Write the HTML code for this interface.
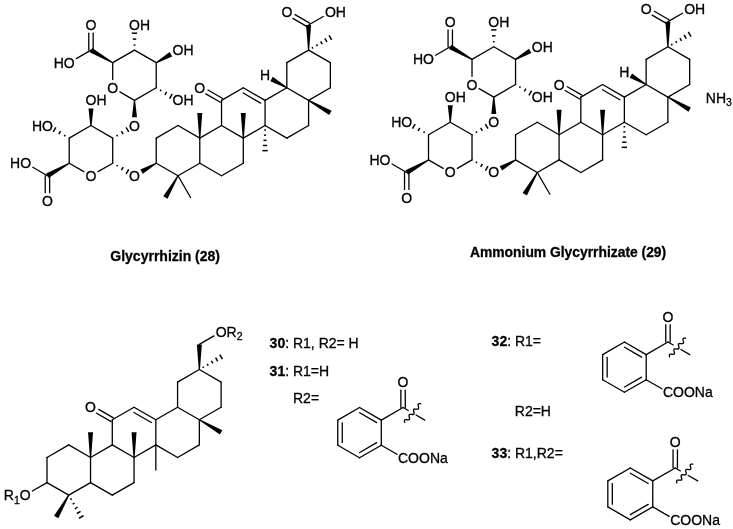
<!DOCTYPE html>
<html><head><meta charset="utf-8"><title>Glycyrrhizin derivatives</title><style>html,body{margin:0;padding:0;background:#fff}svg{display:block;will-change:transform}</style></head><body>
<svg width="733" height="529" viewBox="0 0 733 529" font-family="'Liberation Sans', Arial, Helvetica, sans-serif" fill="#000" stroke="none"><g stroke="#000" stroke-width="1.3" stroke-linecap="round" fill="#000"><line x1="156.25" y1="163.2" x2="156.25" y2="138.07"/>
<line x1="156.25" y1="138.07" x2="178.01" y2="125.5"/>
<line x1="178.01" y1="125.5" x2="199.78" y2="138.07"/>
<line x1="199.78" y1="138.07" x2="199.78" y2="163.2"/>
<line x1="199.78" y1="163.2" x2="178.01" y2="175.76"/>
<line x1="178.01" y1="175.76" x2="156.25" y2="163.2"/>
<line x1="199.78" y1="163.2" x2="221.54" y2="175.76"/>
<line x1="221.54" y1="175.76" x2="243.3" y2="163.2"/>
<line x1="243.3" y1="163.2" x2="243.3" y2="138.07"/>
<line x1="243.3" y1="138.07" x2="221.54" y2="125.5"/>
<line x1="221.54" y1="125.5" x2="199.78" y2="138.07"/>
<line x1="221.54" y1="125.5" x2="221.54" y2="100.38"/>
<line x1="221.54" y1="100.38" x2="243.3" y2="87.81"/>
<line x1="265.07" y1="100.38" x2="265.07" y2="125.5"/>
<line x1="265.07" y1="125.5" x2="243.3" y2="138.07"/>
<line x1="265.07" y1="125.5" x2="286.83" y2="138.07"/>
<line x1="286.83" y1="138.07" x2="308.59" y2="125.5"/>
<line x1="308.59" y1="125.5" x2="308.59" y2="100.38"/>
<line x1="308.59" y1="100.38" x2="286.83" y2="87.81"/>
<line x1="286.83" y1="87.81" x2="265.07" y2="100.38"/>
<line x1="286.83" y1="87.81" x2="286.83" y2="62.68"/>
<line x1="286.83" y1="62.68" x2="308.59" y2="50.12"/>
<line x1="308.59" y1="50.12" x2="330.36" y2="62.68"/>
<line x1="330.36" y1="62.68" x2="330.36" y2="87.81"/>
<line x1="330.36" y1="87.81" x2="308.59" y2="100.38"/>
<line x1="243.3" y1="87.81" x2="265.07" y2="100.38"/>
<line x1="243.17" y1="93.04" x2="260.6" y2="103.11"/>
<line x1="222.64" y1="98.47" x2="207.98" y2="90"/>
<line x1="220.44" y1="102.28" x2="205.78" y2="93.82"/>
<polygon stroke="none" points="200.38,138.07 202.28,112.94 197.28,112.94 199.18,138.07"/>
<polygon stroke="none" points="243.9,138.07 245.8,112.94 240.8,112.94 242.7,138.07"/>
<line x1="264.22" y1="130.03" x2="265.92" y2="130.03" stroke-width="1.5" stroke-linecap="butt"/>
<line x1="264.05" y1="135.18" x2="266.09" y2="135.18" stroke-width="1.5" stroke-linecap="butt"/>
<line x1="263.5" y1="140.33" x2="266.63" y2="140.33" stroke-width="1.5" stroke-linecap="butt"/>
<line x1="262.96" y1="145.48" x2="267.17" y2="145.48" stroke-width="1.5" stroke-linecap="butt"/>
<line x1="262.42" y1="150.63" x2="267.72" y2="150.63" stroke-width="1.5" stroke-linecap="butt"/>
<polygon stroke="none" points="308.29,100.89 329.11,115.11 331.61,110.77 308.89,99.86"/>
<polygon stroke="none" points="287.13,87.29 272.81,76.83 270.31,81.16 286.53,88.33"/>
<polygon stroke="none" points="309.19,50.12 311.09,24.99 306.09,24.99 307.99,50.12"/>
<line x1="312.93" y1="48.59" x2="312.08" y2="47.12" stroke-width="1.5" stroke-linecap="butt"/>
<line x1="317.48" y1="46.16" x2="316.46" y2="44.39" stroke-width="1.5" stroke-linecap="butt"/>
<line x1="322.21" y1="44.06" x2="320.65" y2="41.35" stroke-width="1.5" stroke-linecap="butt"/>
<line x1="326.95" y1="41.95" x2="324.84" y2="38.3" stroke-width="1.5" stroke-linecap="butt"/>
<line x1="331.68" y1="39.84" x2="329.03" y2="35.26" stroke-width="1.5" stroke-linecap="butt"/>
<line x1="309.69" y1="23.08" x2="295.03" y2="14.61"/>
<line x1="307.49" y1="26.89" x2="292.83" y2="18.43"/>
<line x1="308.59" y1="24.99" x2="323.25" y2="16.52"/>
<polygon stroke="none" points="177.49,175.46 163.28,196.28 167.61,198.78 178.53,176.06"/>
<line x1="178.01" y1="175.76" x2="190.58" y2="197.53"/>
<polygon stroke="none" points="155.95,162.68 140.34,169.5 142.84,173.83 156.55,163.72"/>
<line x1="116.7" y1="166.48" x2="117.55" y2="165" stroke-width="1.5" stroke-linecap="butt"/>
<line x1="121.39" y1="170.19" x2="123.11" y2="167.21" stroke-width="1.5" stroke-linecap="butt"/>
<line x1="126.06" y1="173.96" x2="128.71" y2="169.37" stroke-width="1.5" stroke-linecap="butt"/>
<line x1="112.72" y1="163.2" x2="98.06" y2="171.66"/>
<line x1="83.86" y1="171.66" x2="69.2" y2="163.2"/>
<line x1="69.2" y1="163.2" x2="69.2" y2="138.07"/>
<line x1="69.2" y1="138.07" x2="90.96" y2="125.5"/>
<line x1="90.96" y1="125.5" x2="112.72" y2="138.07"/>
<line x1="112.72" y1="138.07" x2="112.72" y2="163.2"/>
<polygon stroke="none" points="91.56,125.5 93.46,108.58 88.46,108.58 90.36,125.5"/>
<line x1="65.22" y1="134.79" x2="64.37" y2="136.27" stroke-width="1.5" stroke-linecap="butt"/>
<line x1="60.53" y1="131.08" x2="58.81" y2="134.06" stroke-width="1.5" stroke-linecap="butt"/>
<line x1="55.86" y1="127.31" x2="53.21" y2="131.9" stroke-width="1.5" stroke-linecap="butt"/>
<line x1="117.55" y1="136.27" x2="116.7" y2="134.79" stroke-width="1.5" stroke-linecap="butt"/>
<line x1="123.11" y1="134.06" x2="121.39" y2="131.08" stroke-width="1.5" stroke-linecap="butt"/>
<line x1="128.71" y1="131.9" x2="126.06" y2="127.31" stroke-width="1.5" stroke-linecap="butt"/>
<polygon stroke="none" points="68.9,162.68 46.18,173.6 48.68,177.93 69.5,163.72"/>
<line x1="45.23" y1="175.76" x2="45.23" y2="192.69"/>
<line x1="49.63" y1="175.76" x2="49.63" y2="192.69"/>
<line x1="47.43" y1="175.76" x2="32.77" y2="167.3"/>
<polygon stroke="none" points="133.89,100.38 131.99,117.3 136.99,117.3 135.09,100.38"/>
<line x1="134.49" y1="100.38" x2="119.82" y2="91.91"/>
<line x1="112.72" y1="79.61" x2="112.72" y2="62.68"/>
<line x1="112.72" y1="62.68" x2="134.49" y2="50.12"/>
<line x1="134.49" y1="50.12" x2="156.25" y2="62.68"/>
<line x1="156.25" y1="62.68" x2="156.25" y2="87.81"/>
<line x1="156.25" y1="87.81" x2="134.49" y2="100.38"/>
<polygon stroke="none" points="113.02,62.16 92.21,47.95 89.71,52.28 112.42,63.2"/>
<line x1="93.16" y1="50.12" x2="93.16" y2="33.19"/>
<line x1="88.76" y1="50.12" x2="88.76" y2="33.19"/>
<line x1="90.96" y1="50.12" x2="76.3" y2="58.58"/>
<line x1="135.34" y1="45.04" x2="133.64" y2="45.04" stroke-width="1.5" stroke-linecap="butt"/>
<line x1="136.21" y1="39.11" x2="132.76" y2="39.11" stroke-width="1.5" stroke-linecap="butt"/>
<line x1="137.14" y1="33.19" x2="131.84" y2="33.19" stroke-width="1.5" stroke-linecap="butt"/>
<polygon stroke="none" points="156.55,63.2 172.16,56.38 169.66,52.05 155.95,62.16"/>
<line x1="160.22" y1="91.09" x2="161.07" y2="89.61" stroke-width="1.5" stroke-linecap="butt"/>
<line x1="164.92" y1="94.8" x2="166.64" y2="91.82" stroke-width="1.5" stroke-linecap="butt"/>
<line x1="169.59" y1="98.57" x2="172.24" y2="93.98" stroke-width="1.5" stroke-linecap="butt"/>
<line x1="515.55" y1="159.9" x2="515.55" y2="134.77"/>
<line x1="515.55" y1="134.77" x2="537.31" y2="122.2"/>
<line x1="537.31" y1="122.2" x2="559.08" y2="134.77"/>
<line x1="559.08" y1="134.77" x2="559.08" y2="159.9"/>
<line x1="559.08" y1="159.9" x2="537.31" y2="172.46"/>
<line x1="537.31" y1="172.46" x2="515.55" y2="159.9"/>
<line x1="559.08" y1="159.9" x2="580.84" y2="172.46"/>
<line x1="580.84" y1="172.46" x2="602.6" y2="159.9"/>
<line x1="602.6" y1="159.9" x2="602.6" y2="134.77"/>
<line x1="602.6" y1="134.77" x2="580.84" y2="122.2"/>
<line x1="580.84" y1="122.2" x2="559.08" y2="134.77"/>
<line x1="580.84" y1="122.2" x2="580.84" y2="97.07"/>
<line x1="580.84" y1="97.07" x2="602.6" y2="84.51"/>
<line x1="624.37" y1="97.07" x2="624.37" y2="122.2"/>
<line x1="624.37" y1="122.2" x2="602.6" y2="134.77"/>
<line x1="624.37" y1="122.2" x2="646.13" y2="134.77"/>
<line x1="646.13" y1="134.77" x2="667.89" y2="122.2"/>
<line x1="667.89" y1="122.2" x2="667.89" y2="97.07"/>
<line x1="667.89" y1="97.07" x2="646.13" y2="84.51"/>
<line x1="646.13" y1="84.51" x2="624.37" y2="97.07"/>
<line x1="646.13" y1="84.51" x2="646.13" y2="59.38"/>
<line x1="646.13" y1="59.38" x2="667.89" y2="46.81"/>
<line x1="667.89" y1="46.81" x2="689.66" y2="59.38"/>
<line x1="689.66" y1="59.38" x2="689.66" y2="84.51"/>
<line x1="689.66" y1="84.51" x2="667.89" y2="97.07"/>
<line x1="602.6" y1="84.51" x2="624.37" y2="97.07"/>
<line x1="602.47" y1="89.74" x2="619.9" y2="99.81"/>
<line x1="581.94" y1="95.17" x2="567.28" y2="86.7"/>
<line x1="579.74" y1="98.98" x2="565.08" y2="90.52"/>
<polygon stroke="none" points="559.68,134.77 561.58,109.64 556.58,109.64 558.48,134.77"/>
<polygon stroke="none" points="603.2,134.77 605.1,109.64 600.1,109.64 602,134.77"/>
<line x1="623.52" y1="126.73" x2="625.22" y2="126.73" stroke-width="1.5" stroke-linecap="butt"/>
<line x1="623.35" y1="131.88" x2="625.39" y2="131.88" stroke-width="1.5" stroke-linecap="butt"/>
<line x1="622.8" y1="137.03" x2="625.93" y2="137.03" stroke-width="1.5" stroke-linecap="butt"/>
<line x1="622.26" y1="142.18" x2="626.47" y2="142.18" stroke-width="1.5" stroke-linecap="butt"/>
<line x1="621.72" y1="147.33" x2="627.02" y2="147.33" stroke-width="1.5" stroke-linecap="butt"/>
<polygon stroke="none" points="667.59,97.59 688.41,111.81 690.91,107.47 668.19,96.56"/>
<polygon stroke="none" points="646.43,83.99 632.11,73.53 629.61,77.86 645.83,85.03"/>
<polygon stroke="none" points="668.49,46.81 670.39,21.68 665.39,21.68 667.29,46.81"/>
<line x1="672.23" y1="45.29" x2="671.38" y2="43.82" stroke-width="1.5" stroke-linecap="butt"/>
<line x1="676.78" y1="42.86" x2="675.76" y2="41.09" stroke-width="1.5" stroke-linecap="butt"/>
<line x1="681.51" y1="40.76" x2="679.95" y2="38.05" stroke-width="1.5" stroke-linecap="butt"/>
<line x1="686.25" y1="38.65" x2="684.14" y2="35" stroke-width="1.5" stroke-linecap="butt"/>
<line x1="690.98" y1="36.54" x2="688.33" y2="31.96" stroke-width="1.5" stroke-linecap="butt"/>
<line x1="668.99" y1="19.78" x2="654.33" y2="11.31"/>
<line x1="666.79" y1="23.59" x2="652.13" y2="15.13"/>
<line x1="667.89" y1="21.68" x2="682.55" y2="13.22"/>
<polygon stroke="none" points="536.79,172.16 522.58,192.98 526.91,195.48 537.83,172.76"/>
<line x1="537.31" y1="172.46" x2="549.88" y2="194.23"/>
<polygon stroke="none" points="515.25,159.38 499.64,166.2 502.14,170.53 515.85,160.42"/>
<line x1="476" y1="163.18" x2="476.85" y2="161.7" stroke-width="1.5" stroke-linecap="butt"/>
<line x1="480.69" y1="166.89" x2="482.41" y2="163.91" stroke-width="1.5" stroke-linecap="butt"/>
<line x1="485.36" y1="170.66" x2="488.01" y2="166.07" stroke-width="1.5" stroke-linecap="butt"/>
<line x1="472.02" y1="159.9" x2="457.36" y2="168.36"/>
<line x1="443.16" y1="168.36" x2="428.5" y2="159.9"/>
<line x1="428.5" y1="159.9" x2="428.5" y2="134.77"/>
<line x1="428.5" y1="134.77" x2="450.26" y2="122.2"/>
<line x1="450.26" y1="122.2" x2="472.02" y2="134.77"/>
<line x1="472.02" y1="134.77" x2="472.02" y2="159.9"/>
<polygon stroke="none" points="450.86,122.2 452.76,105.27 447.76,105.27 449.66,122.2"/>
<line x1="424.52" y1="131.49" x2="423.67" y2="132.97" stroke-width="1.5" stroke-linecap="butt"/>
<line x1="419.83" y1="127.78" x2="418.11" y2="130.76" stroke-width="1.5" stroke-linecap="butt"/>
<line x1="415.16" y1="124.01" x2="412.51" y2="128.6" stroke-width="1.5" stroke-linecap="butt"/>
<line x1="476.85" y1="132.97" x2="476" y2="131.49" stroke-width="1.5" stroke-linecap="butt"/>
<line x1="482.41" y1="130.76" x2="480.69" y2="127.78" stroke-width="1.5" stroke-linecap="butt"/>
<line x1="488.01" y1="128.6" x2="485.36" y2="124.01" stroke-width="1.5" stroke-linecap="butt"/>
<polygon stroke="none" points="428.2,159.38 405.48,170.3 407.98,174.63 428.8,160.42"/>
<line x1="404.53" y1="172.46" x2="404.53" y2="189.39"/>
<line x1="408.93" y1="172.46" x2="408.93" y2="189.39"/>
<line x1="406.73" y1="172.46" x2="392.07" y2="164"/>
<polygon stroke="none" points="493.19,97.07 491.29,114 496.29,114 494.39,97.07"/>
<line x1="493.79" y1="97.07" x2="479.12" y2="88.61"/>
<line x1="472.02" y1="76.31" x2="472.02" y2="59.38"/>
<line x1="472.02" y1="59.38" x2="493.79" y2="46.81"/>
<line x1="493.79" y1="46.81" x2="515.55" y2="59.38"/>
<line x1="515.55" y1="59.38" x2="515.55" y2="84.51"/>
<line x1="515.55" y1="84.51" x2="493.79" y2="97.07"/>
<polygon stroke="none" points="472.32,58.86 451.51,44.65 449.01,48.98 471.72,59.9"/>
<line x1="452.46" y1="46.81" x2="452.46" y2="29.88"/>
<line x1="448.06" y1="46.81" x2="448.06" y2="29.88"/>
<line x1="450.26" y1="46.81" x2="435.6" y2="55.28"/>
<line x1="494.64" y1="41.74" x2="492.94" y2="41.74" stroke-width="1.5" stroke-linecap="butt"/>
<line x1="495.51" y1="35.81" x2="492.06" y2="35.81" stroke-width="1.5" stroke-linecap="butt"/>
<line x1="496.44" y1="29.88" x2="491.14" y2="29.88" stroke-width="1.5" stroke-linecap="butt"/>
<polygon stroke="none" points="515.85,59.9 531.46,53.08 528.96,48.75 515.25,58.86"/>
<line x1="519.52" y1="87.79" x2="520.37" y2="86.31" stroke-width="1.5" stroke-linecap="butt"/>
<line x1="524.22" y1="91.5" x2="525.94" y2="88.52" stroke-width="1.5" stroke-linecap="butt"/>
<line x1="528.89" y1="95.27" x2="531.54" y2="90.68" stroke-width="1.5" stroke-linecap="butt"/>
<line x1="47" y1="482.6" x2="47" y2="457.47"/>
<line x1="47" y1="457.47" x2="68.76" y2="444.91"/>
<line x1="68.76" y1="444.91" x2="90.53" y2="457.47"/>
<line x1="90.53" y1="457.47" x2="90.53" y2="482.6"/>
<line x1="90.53" y1="482.6" x2="68.76" y2="495.17"/>
<line x1="68.76" y1="495.17" x2="47" y2="482.6"/>
<line x1="90.53" y1="482.6" x2="112.29" y2="495.17"/>
<line x1="112.29" y1="495.17" x2="134.05" y2="482.6"/>
<line x1="134.05" y1="482.6" x2="134.05" y2="457.47"/>
<line x1="134.05" y1="457.47" x2="112.29" y2="444.91"/>
<line x1="112.29" y1="444.91" x2="90.53" y2="457.47"/>
<line x1="112.29" y1="444.91" x2="112.29" y2="419.78"/>
<line x1="112.29" y1="419.78" x2="134.05" y2="407.21"/>
<line x1="155.82" y1="419.78" x2="155.82" y2="444.91"/>
<line x1="155.82" y1="444.91" x2="134.05" y2="457.47"/>
<line x1="155.82" y1="444.91" x2="177.58" y2="457.47"/>
<line x1="177.58" y1="457.47" x2="199.34" y2="444.91"/>
<line x1="199.34" y1="444.91" x2="199.34" y2="419.78"/>
<line x1="199.34" y1="419.78" x2="177.58" y2="407.21"/>
<line x1="177.58" y1="407.21" x2="155.82" y2="419.78"/>
<line x1="177.58" y1="407.21" x2="177.58" y2="382.08"/>
<line x1="177.58" y1="382.08" x2="199.34" y2="369.52"/>
<line x1="199.34" y1="369.52" x2="221.11" y2="382.08"/>
<line x1="221.11" y1="382.08" x2="221.11" y2="407.21"/>
<line x1="221.11" y1="407.21" x2="199.34" y2="419.78"/>
<line x1="134.05" y1="407.21" x2="155.82" y2="419.78"/>
<line x1="133.92" y1="412.44" x2="151.35" y2="422.51"/>
<line x1="113.39" y1="417.87" x2="98.73" y2="409.4"/>
<line x1="111.19" y1="421.68" x2="96.53" y2="413.22"/>
<polygon stroke="none" points="91.13,457.47 93.03,432.34 88.03,432.34 89.93,457.47"/>
<polygon stroke="none" points="134.65,457.47 136.55,432.34 131.55,432.34 133.45,457.47"/>
<line x1="155.82" y1="444.91" x2="155.82" y2="470.04"/>
<polygon stroke="none" points="199.04,420.29 219.86,434.51 222.36,430.17 199.64,419.26"/>
<polygon stroke="none" points="199.94,369.52 201.84,344.39 196.84,344.39 198.74,369.52"/>
<line x1="203.68" y1="367.99" x2="202.83" y2="366.52" stroke-width="1.5" stroke-linecap="butt"/>
<line x1="208.23" y1="365.56" x2="207.21" y2="363.79" stroke-width="1.5" stroke-linecap="butt"/>
<line x1="212.96" y1="363.46" x2="211.4" y2="360.75" stroke-width="1.5" stroke-linecap="butt"/>
<line x1="217.7" y1="361.35" x2="215.59" y2="357.7" stroke-width="1.5" stroke-linecap="butt"/>
<line x1="222.43" y1="359.24" x2="219.78" y2="354.66" stroke-width="1.5" stroke-linecap="butt"/>
<line x1="199.34" y1="344.39" x2="214" y2="335.92"/>
<polygon stroke="none" points="68.24,494.87 54.03,515.68 58.36,518.18 69.28,495.47"/>
<line x1="70.29" y1="499.51" x2="71.76" y2="498.66" stroke-width="1.5" stroke-linecap="butt"/>
<line x1="72.72" y1="504.05" x2="74.48" y2="503.03" stroke-width="1.5" stroke-linecap="butt"/>
<line x1="74.82" y1="508.79" x2="77.53" y2="507.22" stroke-width="1.5" stroke-linecap="butt"/>
<line x1="76.93" y1="513.52" x2="80.58" y2="511.41" stroke-width="1.5" stroke-linecap="butt"/>
<line x1="79.03" y1="518.25" x2="83.62" y2="515.6" stroke-width="1.5" stroke-linecap="butt"/>
<line x1="47" y1="482.6" x2="32.34" y2="491.06"/>
<line x1="381.3" y1="420.1" x2="381.3" y2="445.23"/>
<line x1="381.3" y1="445.23" x2="359.54" y2="457.8"/>
<line x1="359.54" y1="457.8" x2="337.77" y2="445.23"/>
<line x1="337.77" y1="445.23" x2="337.77" y2="420.1"/>
<line x1="337.77" y1="420.1" x2="359.54" y2="407.54"/>
<line x1="359.54" y1="407.54" x2="381.3" y2="420.1"/>
<line x1="359.63" y1="412.78" x2="376.71" y2="422.65"/>
<line x1="376.71" y1="442.68" x2="359.63" y2="452.55"/>
<line x1="342.27" y1="442.53" x2="342.27" y2="422.8"/>
<line x1="381.3" y1="420.1" x2="403.06" y2="407.54"/>
<line x1="405.26" y1="407.54" x2="405.26" y2="390.21"/>
<line x1="400.86" y1="407.54" x2="400.86" y2="390.21"/>
<line x1="403.06" y1="407.54" x2="408.26" y2="410.54"/>
<line x1="416.05" y1="415.04" x2="424.83" y2="420.1"/>
<polyline points="404.72,422.4 404.54,421.67 404.43,421 404.45,420.44 404.64,420.03 405.02,419.78 405.56,419.67 406.24,419.67 406.99,419.74 407.74,419.8 408.42,419.81 408.97,419.7 409.35,419.45 409.54,419.04 409.56,418.48 409.45,417.81 409.27,417.08 409.09,416.35 408.97,415.68 408.99,415.12 409.19,414.71 409.56,414.45 410.11,414.35 410.79,414.35 411.54,414.42 412.29,414.48 412.97,414.49 413.52,414.38 413.89,414.12 414.08,413.71 414.1,413.15 413.99,412.48 413.81,411.75 413.63,411.02 413.52,410.35 413.54,409.8 413.73,409.38 414.11,409.13 414.66,409.02 415.34,409.03 416.09,409.09 416.84,409.16 417.51,409.16 418.06,409.05 418.44,408.8 418.63,408.39 418.65,407.83 418.54,407.16 418.36,406.43 418.18,405.7 418.07,405.03 418.09,404.47 418.28,404.06 418.66,403.81 419.2,403.7 419.88,403.71 420.63,403.77" fill="none" stroke-linejoin="round" stroke-linecap="round"/>
<line x1="381.3" y1="445.23" x2="397" y2="454.3"/>
<line x1="646.2" y1="354.6" x2="646.2" y2="379.73"/>
<line x1="646.2" y1="379.73" x2="624.44" y2="392.3"/>
<line x1="624.44" y1="392.3" x2="602.67" y2="379.73"/>
<line x1="602.67" y1="379.73" x2="602.67" y2="354.6"/>
<line x1="602.67" y1="354.6" x2="624.44" y2="342.04"/>
<line x1="624.44" y1="342.04" x2="646.2" y2="354.6"/>
<line x1="624.53" y1="347.28" x2="641.61" y2="357.15"/>
<line x1="641.61" y1="377.18" x2="624.53" y2="387.05"/>
<line x1="607.17" y1="377.03" x2="607.17" y2="357.3"/>
<line x1="646.2" y1="354.6" x2="667.96" y2="342.04"/>
<line x1="670.16" y1="342.04" x2="670.16" y2="324.71"/>
<line x1="665.76" y1="342.04" x2="665.76" y2="324.71"/>
<line x1="667.96" y1="342.04" x2="673.16" y2="345.04"/>
<line x1="680.95" y1="349.54" x2="689.73" y2="354.6"/>
<polyline points="669.62,356.9 669.44,356.17 669.33,355.5 669.35,354.94 669.54,354.53 669.92,354.28 670.46,354.17 671.14,354.17 671.89,354.24 672.64,354.3 673.32,354.31 673.87,354.2 674.25,353.95 674.44,353.54 674.46,352.98 674.35,352.31 674.17,351.58 673.99,350.85 673.87,350.18 673.89,349.62 674.09,349.21 674.46,348.95 675.01,348.85 675.69,348.85 676.44,348.92 677.19,348.98 677.87,348.99 678.42,348.88 678.79,348.62 678.98,348.21 679,347.65 678.89,346.98 678.71,346.25 678.53,345.52 678.42,344.85 678.44,344.3 678.63,343.88 679.01,343.63 679.56,343.52 680.24,343.53 680.99,343.59 681.74,343.66 682.41,343.66 682.96,343.55 683.34,343.3 683.53,342.89 683.55,342.33 683.44,341.66 683.26,340.93 683.08,340.2 682.97,339.53 682.99,338.97 683.18,338.56 683.56,338.31 684.1,338.2 684.78,338.21 685.53,338.27" fill="none" stroke-linejoin="round" stroke-linecap="round"/>
<line x1="646.2" y1="379.73" x2="661.9" y2="388.8"/>
<line x1="652.77" y1="480.92" x2="652.77" y2="506.87"/>
<line x1="652.77" y1="506.87" x2="630.3" y2="519.85"/>
<line x1="630.3" y1="519.85" x2="607.82" y2="506.87"/>
<line x1="607.82" y1="506.87" x2="607.82" y2="480.92"/>
<line x1="607.82" y1="480.92" x2="630.3" y2="467.94"/>
<line x1="630.3" y1="467.94" x2="652.77" y2="480.92"/>
<line x1="630.38" y1="473.19" x2="648.18" y2="483.47"/>
<line x1="648.18" y1="504.32" x2="630.38" y2="514.6"/>
<line x1="612.32" y1="504.17" x2="612.32" y2="483.62"/>
<line x1="652.77" y1="480.92" x2="675.24" y2="467.94"/>
<line x1="677.44" y1="467.94" x2="677.44" y2="449.8"/>
<line x1="673.04" y1="467.94" x2="673.04" y2="449.8"/>
<line x1="675.24" y1="467.94" x2="680.44" y2="470.94"/>
<line x1="688.23" y1="475.44" x2="697.72" y2="480.92"/>
<polyline points="676.9,482.81 676.72,482.08 676.61,481.41 676.63,480.85 676.82,480.44 677.2,480.19 677.75,480.08 678.42,480.08 679.17,480.15 679.92,480.21 680.6,480.22 681.15,480.11 681.53,479.86 681.72,479.45 681.74,478.89 681.63,478.22 681.45,477.49 681.27,476.76 681.15,476.09 681.18,475.53 681.37,475.12 681.74,474.86 682.29,474.76 682.97,474.76 683.72,474.83 684.47,474.89 685.15,474.9 685.7,474.79 686.07,474.53 686.26,474.12 686.28,473.56 686.17,472.89 685.99,472.16 685.81,471.43 685.7,470.76 685.72,470.21 685.91,469.79 686.29,469.54 686.84,469.43 687.52,469.44 688.27,469.5 689.02,469.57 689.69,469.57 690.24,469.46 690.62,469.21 690.81,468.8 690.83,468.24 690.72,467.57 690.54,466.84 690.36,466.11 690.25,465.44 690.27,464.88 690.46,464.47 690.84,464.22 691.38,464.11 692.06,464.12 692.81,464.18" fill="none" stroke-linejoin="round" stroke-linecap="round"/>
<line x1="652.77" y1="506.87" x2="669.18" y2="516.35"/></g><g stroke="#000" stroke-width="0.3"><text x="194.33" y="92.82" font-size="14">O</text>
<text x="265.07" y="80.26" font-size="14" text-anchor="middle">H</text>
<text x="281.38" y="17.43" font-size="14">O</text>
<text x="324.91" y="17.43" font-size="14">OH</text>
<text x="129.04" y="180.78" font-size="14">O</text>
<text x="85.51" y="180.78" font-size="14">O</text>
<text x="85.51" y="105.39" font-size="14">OH</text>
<text x="52.88" y="130.52" font-size="14" text-anchor="end">HO</text>
<text x="129.04" y="130.52" font-size="14">O</text>
<text x="41.99" y="205.91" font-size="14">O</text>
<text x="31.12" y="168.21" font-size="14" text-anchor="end">HO</text>
<text x="107.28" y="92.82" font-size="14">O</text>
<text x="85.51" y="30" font-size="14">O</text>
<text x="74.64" y="67.69" font-size="14" text-anchor="end">HO</text>
<text x="129.04" y="30" font-size="14">OH</text>
<text x="172.57" y="55.13" font-size="14">OH</text>
<text x="172.57" y="105.39" font-size="14">OH</text>
<text x="553.63" y="89.52" font-size="14">O</text>
<text x="624.37" y="76.96" font-size="14" text-anchor="middle">H</text>
<text x="640.68" y="14.13" font-size="14">O</text>
<text x="684.21" y="14.13" font-size="14">OH</text>
<text x="488.34" y="177.48" font-size="14">O</text>
<text x="444.81" y="177.48" font-size="14">O</text>
<text x="444.81" y="102.09" font-size="14">OH</text>
<text x="412.18" y="127.22" font-size="14" text-anchor="end">HO</text>
<text x="488.34" y="127.22" font-size="14">O</text>
<text x="401.29" y="202.61" font-size="14">O</text>
<text x="390.42" y="164.91" font-size="14" text-anchor="end">HO</text>
<text x="466.58" y="89.52" font-size="14">O</text>
<text x="444.81" y="26.7" font-size="14">O</text>
<text x="433.94" y="64.39" font-size="14" text-anchor="end">HO</text>
<text x="488.34" y="26.7" font-size="14">OH</text>
<text x="531.87" y="51.83" font-size="14">OH</text>
<text x="531.87" y="102.09" font-size="14">OH</text>
<text x="705.8" y="103.1" font-size="14">NH<tspan font-size="10.5" dy="3.1">3</tspan></text>
<text x="110.3" y="260.8" font-size="14" font-weight="bold">Glycyrrhizin (28)</text>
<text x="470" y="257.2" font-size="13.85" font-weight="bold">Ammonium Glycyrrhizate (29)</text>
<text x="85.08" y="412.22" font-size="14">O</text>
<text x="215.66" y="336.83" font-size="14">OR<tspan font-size="10.5" dy="3.5">2</tspan></text>
<text x="30.68" y="500.18" font-size="14" text-anchor="end">R<tspan font-size="10.5" dy="3.5">1</tspan><tspan dy="-3.5">O</tspan></text>
<text x="397.62" y="387.42" font-size="14">O</text>
<text x="398.01" y="462.81" font-size="14">COONa</text>
<text x="662.52" y="321.92" font-size="14">O</text>
<text x="662.91" y="397.31" font-size="14">COONa</text>
<text x="669.8" y="447.01" font-size="14">O</text>
<text x="670.19" y="524.86" font-size="14">COONa</text>
<text x="269.6" y="347.5" font-size="14"><tspan font-weight="bold">30</tspan>: R1, R2= H</text>
<text x="269.6" y="375.7" font-size="14"><tspan font-weight="bold">31</tspan>: R1=H</text>
<text x="293" y="402.8" font-size="14">R2=</text>
<text x="491.6" y="345.6" font-size="14"><tspan font-weight="bold">32</tspan>: R1=</text>
<text x="514.8" y="415.6" font-size="14">R2=H</text>
<text x="491.6" y="457.7" font-size="14"><tspan font-weight="bold">33</tspan>: R1,R2=</text></g></svg>
</body></html>
